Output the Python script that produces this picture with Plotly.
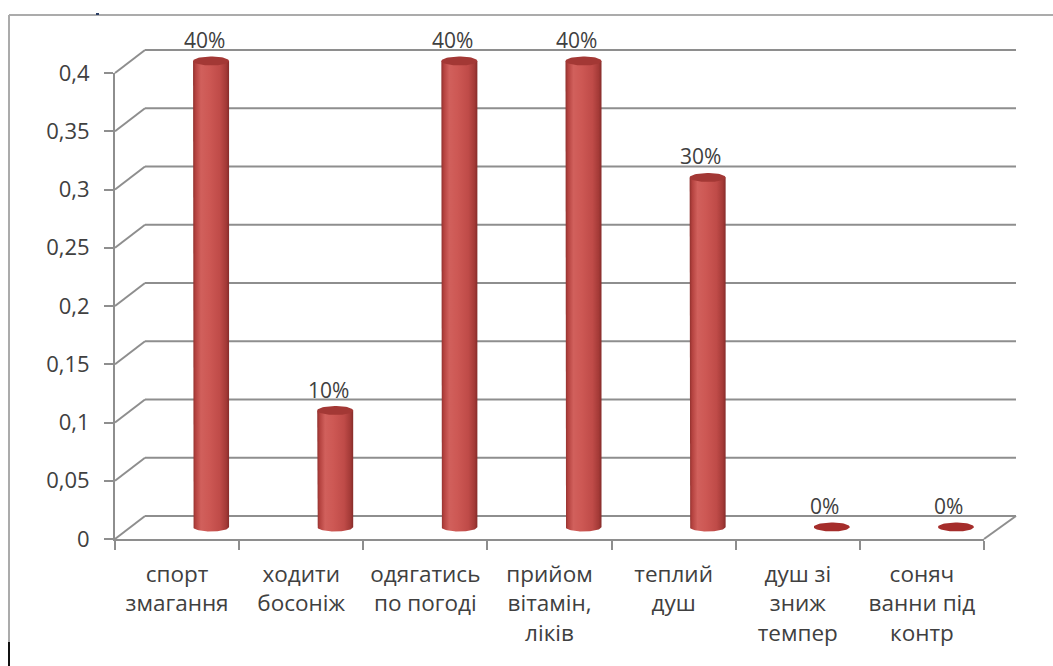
import numpy as np
import plotly.graph_objects as go

# Survey results: share of respondents naming each hardening practice
categories = [
    "спорт<br>змагання",
    "ходити<br>босоніж",
    "одягатись<br>по погоді",
    "прийом<br>вітамін,<br>ліків",
    "теплий<br>душ",
    "душ зі<br>зниж<br>темпер",
    "соняч<br>ванни під<br>контр",
]
shares = [0.4, 0.1, 0.4, 0.4, 0.3, 0.0, 0.0]
y_tick_values = [0, 0.05, 0.1, 0.15, 0.2, 0.25, 0.3, 0.35, 0.4]
y_tick_labels = ["0", "0,05", "0,1", "0,15", "0,2", "0,25", "0,3", "0,35", "0,4"]

# ---- canvas geometry (pixels) ----
W, H = 1053, 666
PX_PER_UNIT = 1165.0          # vertical pixels per 1.0 of share
Y_MAX = 0.4
PAD = 0.05                    # headroom below/above the bar plane range
FRONT_L, FRONT_R, FRONT_BASE = 115, 984, 539
BACK_L, BACK_R, BACK_BASE = 145, 1016, 516
BAR_L, BAR_R, BAR_BASE = 149, 1018, 527
N = len(categories)

GRID = "#8e8e8e"
TEXT = "#404040"
FONT = "Open Sans"


def fx(px):
    return px / W


def fy(px):
    return 1 - px / H


fig = go.Figure()

# invisible trace that carries the category axis of the front frame
fig.add_trace(go.Scatter(
    x=categories, y=shares, mode="markers",
    marker=dict(opacity=0), hoverinfo="skip", showlegend=False,
    xaxis="x", yaxis="y",
))

# ---- cylinders on the bar plane ----
x_units_per_px = N / (BAR_R - BAR_L)
half_w = 18 * x_units_per_px
ell_h = 4.5 / PX_PER_UNIT
body_scale = [
    [0.0, "#8f302d"], [0.07, "#b4423f"], [0.22, "#d1605c"],
    [0.45, "#cd5854"], [0.75, "#bf4b48"], [0.92, "#a43a37"], [1.0, "#862c2a"],
]

for i, v in enumerate(shares):
    if v > 0:
        t = np.linspace(np.pi, 2 * np.pi, 40)
        xs = np.concatenate([[i - half_w, i - half_w], i + half_w * np.cos(t), [i + half_w, i - half_w]])
        ys = np.concatenate([[v, 0], ell_h * np.sin(t), [v, v]])
        fig.add_trace(go.Scatter(
            x=xs, y=ys, mode="lines", fill="toself",
            line=dict(width=0, color="rgba(0,0,0,0)"),
            fillgradient=dict(type="horizontal", colorscale=body_scale),
            hoverinfo="skip", showlegend=False, xaxis="x2", yaxis="y2",
        ))
    t = np.linspace(0, 2 * np.pi, 60)
    fig.add_trace(go.Scatter(
        x=i + half_w * np.cos(t), y=v + ell_h * np.sin(t),
        mode="lines", fill="toself",
        line=dict(width=0, color="rgba(0,0,0,0)"),
        fillcolor="#a33835" if v > 0 else "#a52d2b",
        hoverinfo="skip", showlegend=False, xaxis="x2", yaxis="y2",
    ))
    fig.add_annotation(
        x=i, y=v, xref="x2", yref="y2", text=f"{round(v * 100)}%",
        showarrow=False, xshift=-7, yshift=21,
        font=dict(family=FONT, size=21, color=TEXT),
    )

# ---- back wall and floor outlines ----
shapes = []
for v in y_tick_values:
    yb = BACK_BASE - v * PX_PER_UNIT
    yf = FRONT_BASE - v * PX_PER_UNIT
    shapes.append(dict(type="line", xref="paper", yref="paper",
                       x0=fx(BACK_L), x1=fx(BACK_R), y0=fy(yb), y1=fy(yb),
                       line=dict(color=GRID, width=2), layer="below"))
    shapes.append(dict(type="line", xref="paper", yref="paper",
                       x0=fx(FRONT_L), x1=fx(BACK_L), y0=fy(yf), y1=fy(yb),
                       line=dict(color=GRID, width=2), layer="below"))
shapes.append(dict(type="line", xref="paper", yref="paper",
                   x0=fx(FRONT_R), x1=fx(BACK_R), y0=fy(FRONT_BASE), y1=fy(BACK_BASE),
                   line=dict(color=GRID, width=2), layer="below"))
# chart area border
shapes.append(dict(type="line", xref="paper", yref="paper",
                   x0=fx(9), x1=1, y0=fy(15), y1=fy(15),
                   line=dict(color="#ababab", width=2), layer="below"))
shapes.append(dict(type="line", xref="paper", yref="paper",
                   x0=fx(9), x1=fx(9), y0=fy(15), y1=fy(642),
                   line=dict(color="#ababab", width=2), layer="below"))
shapes.append(dict(type="line", xref="paper", yref="paper",
                   x0=fx(9), x1=fx(9), y0=fy(642), y1=0,
                   line=dict(color="#111111", width=2), layer="below"))
shapes.append(dict(type="line", xref="paper", yref="paper",
                   x0=fx(96), x1=fx(99), y0=fy(14), y1=fy(14),
                   line=dict(color="#2a3f66", width=2)))

fig.update_layout(
    template="none",
    width=W, height=H,
    margin=dict(l=0, r=0, t=0, b=0, pad=0),
    paper_bgcolor="white", plot_bgcolor="rgba(0,0,0,0)",
    showlegend=False,
    shapes=shapes,
    font=dict(family=FONT, color=TEXT),
    xaxis=dict(
        domain=[fx(FRONT_L), fx(FRONT_R)], anchor="y", automargin=False,
        type="category", categoryorder="array", categoryarray=categories,
        range=[-0.5, N - 0.5], tickson="boundaries",
        ticks="outside", ticklen=9, tickwidth=2, tickcolor=GRID,
        showline=True, linecolor=GRID, linewidth=2, showgrid=False, zeroline=False,
        tickfont=dict(family=FONT, size=22.5, color=TEXT), ticklabelstandoff=14,
        fixedrange=True,
    ),
    yaxis=dict(
        domain=[fy(FRONT_BASE), fy(FRONT_BASE - Y_MAX * PX_PER_UNIT)], anchor="x",
        automargin=False,
        range=[0, Y_MAX], tickvals=y_tick_values, ticktext=y_tick_labels,
        ticks="outside", ticklen=9, tickwidth=2, tickcolor=GRID,
        showline=True, linecolor=GRID, linewidth=2, showgrid=False, zeroline=False,
        tickfont=dict(family=FONT, size=22, color=TEXT), ticklabelstandoff=10,
        fixedrange=True,
    ),
    xaxis2=dict(
        domain=[fx(BAR_L), fx(BAR_R)], anchor="y2", range=[-0.5, N - 0.5],
        visible=False, fixedrange=True, automargin=False,
    ),
    yaxis2=dict(
        domain=[fy(BAR_BASE + PAD * PX_PER_UNIT), fy(BAR_BASE - (Y_MAX + PAD) * PX_PER_UNIT)],
        anchor="x2", range=[-PAD, Y_MAX + PAD], visible=False, fixedrange=True,
        automargin=False,
    ),
)

fig.write_html("out.html")
